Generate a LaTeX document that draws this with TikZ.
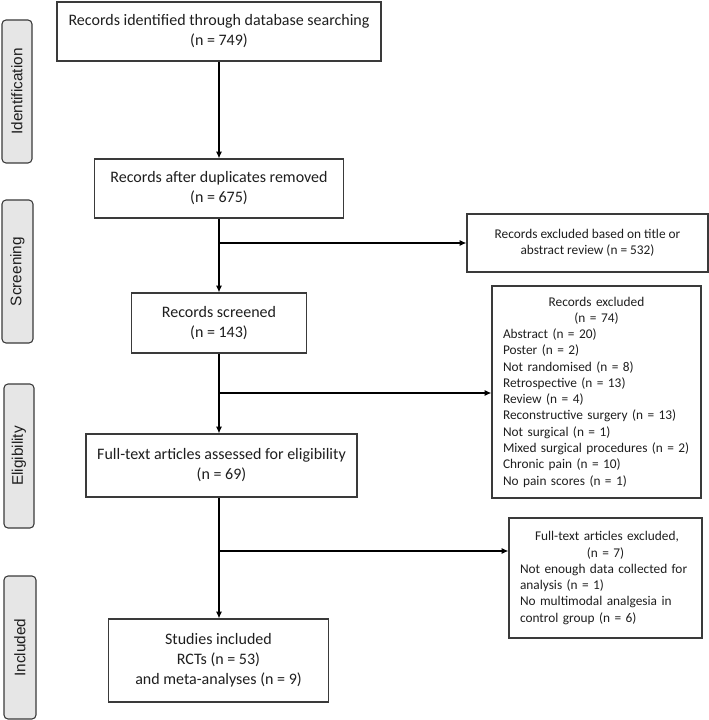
\documentclass[tikz,border=0pt]{standalone}
\usepackage{fontspec}
\setmainfont{Carlito}
\newfontfamily\labfont{Liberation Sans}
\usetikzlibrary{arrows.meta}
\definecolor{boxline}{HTML}{3A3A3A}
\definecolor{sidefill}{HTML}{E6E6E6}
\definecolor{txt}{HTML}{1E1E1E}
\begin{document}
\begin{tikzpicture}[x=0.75pt,y=-0.75pt,
  mainbox/.style={draw=boxline, line width=0.9pt, align=center, inner sep=0pt,
    text=txt, font=\fontsize{12}{15}\selectfont},
  smallbox/.style={draw=boxline, line width=0.9pt, inner sep=0pt, text=txt,
    font=\fontsize{10}{12.2}\selectfont},
  sidebox/.style={draw=boxline, fill=sidefill, line width=0.8pt, rounded corners=3pt,
    inner sep=0pt, text=txt, font=\labfont\fontsize{11.5}{13}\selectfont},
  arr/.style={-{Latex[length=5pt,width=4.5pt]}, line width=0.9pt, draw=black}]
\useasboundingbox (0,0) rectangle (709,720);

% stage labels
\node[sidebox, minimum width=22.5pt, minimum height=107.25pt] (sid) at (17,91.5)
  {\rotatebox{90}{Identification}};
\node[sidebox, minimum width=23.25pt, minimum height=107.25pt] (ssc) at (17.5,271.5)
  {\rotatebox{90}{Screening}};
\node[sidebox, minimum width=22.5pt, minimum height=108pt] (sel) at (19,456)
  {\rotatebox{90}{Eligibility}};
\node[sidebox, minimum width=24pt, minimum height=107.25pt] (sin) at (20,647.5)
  {\rotatebox{90}{Included}};

% main column
\node[mainbox, minimum width=243pt, minimum height=44.25pt] (b1) at (219,31.5)
  {Records identified through database searching\\(n = 749)};
\node[mainbox, minimum width=186.75pt, minimum height=44.25pt] (b2) at (219,188.5)
  {Records after duplicates removed\\(n = 675)};
\node[mainbox, minimum width=131.25pt, minimum height=45pt] (b4) at (219,323)
  {Records screened\\(n = 143)};
\node[mainbox, minimum width=203.25pt, minimum height=47.25pt] (b5) at (221.5,465.5)
  {Full-text articles assessed for eligibility\\(n = 69)};
\node[mainbox, minimum width=165pt, minimum height=62.25pt] (b6) at (218.5,660.5)
  {Studies included\\RCTs (n = 53)\\and meta-analyses (n = 9)};

% exclusion boxes
\node[smallbox, align=center, minimum width=180.75pt, minimum height=43.5pt] (e1) at (587.5,243)
  {Records excluded based on title or\\abstract review (n = 532)};
\node[smallbox, inner xsep=8.25pt, align=left, text width=140.25pt, minimum height=159pt] (e2) at (596.5,392)
  {\makebox[\hsize]{Records excluded}\\
   \makebox[\hsize]{(n = 74)}\\
   Abstract (n = 20)\\
   Poster (n = 2)\\
   Not randomised (n = 8)\\
   Retrospective (n = 13)\\
   Review (n = 4)\\
   Reconstructive surgery (n = 13)\\
   Not surgical (n = 1)\\
   Mixed surgical procedures (n = 2)\\
   Chronic pain (n = 10)\\
   No pain scores (n = 1)};
\node[smallbox, inner xsep=8.25pt, align=left, text width=128.25pt, minimum height=90pt] (e3) at (605.5,578)
  {\hspace*{11.25pt}Full-text articles excluded,\\
   \makebox[\hsize]{(n = 7)}\\
   Not enough data collected for\\
   analysis (n = 1)\\
   No multimodal analgesia in\\
   control group (n = 6)};

% connectors
\draw[arr] (b1.south -| 219,0) -- (b2.north -| 219,0);
\draw[arr] (b2.south -| 219,0) -- (b4.north -| 219,0);
\draw[arr] (b4.south -| 219,0) -- (b5.north -| 219,0);
\draw[arr] (b5.south -| 219,0) -- (b6.north -| 219,0);
\coordinate (j1) at (219,243);
\coordinate (j2) at (219,393);
\coordinate (j3) at (219,551);
\draw[arr] (j1) -- (j1 -| e1.west);
\draw[arr] (j2) -- (j2 -| e2.west);
\draw[arr] (j3) -- (j3 -| e3.west);
\end{tikzpicture}
\end{document}
